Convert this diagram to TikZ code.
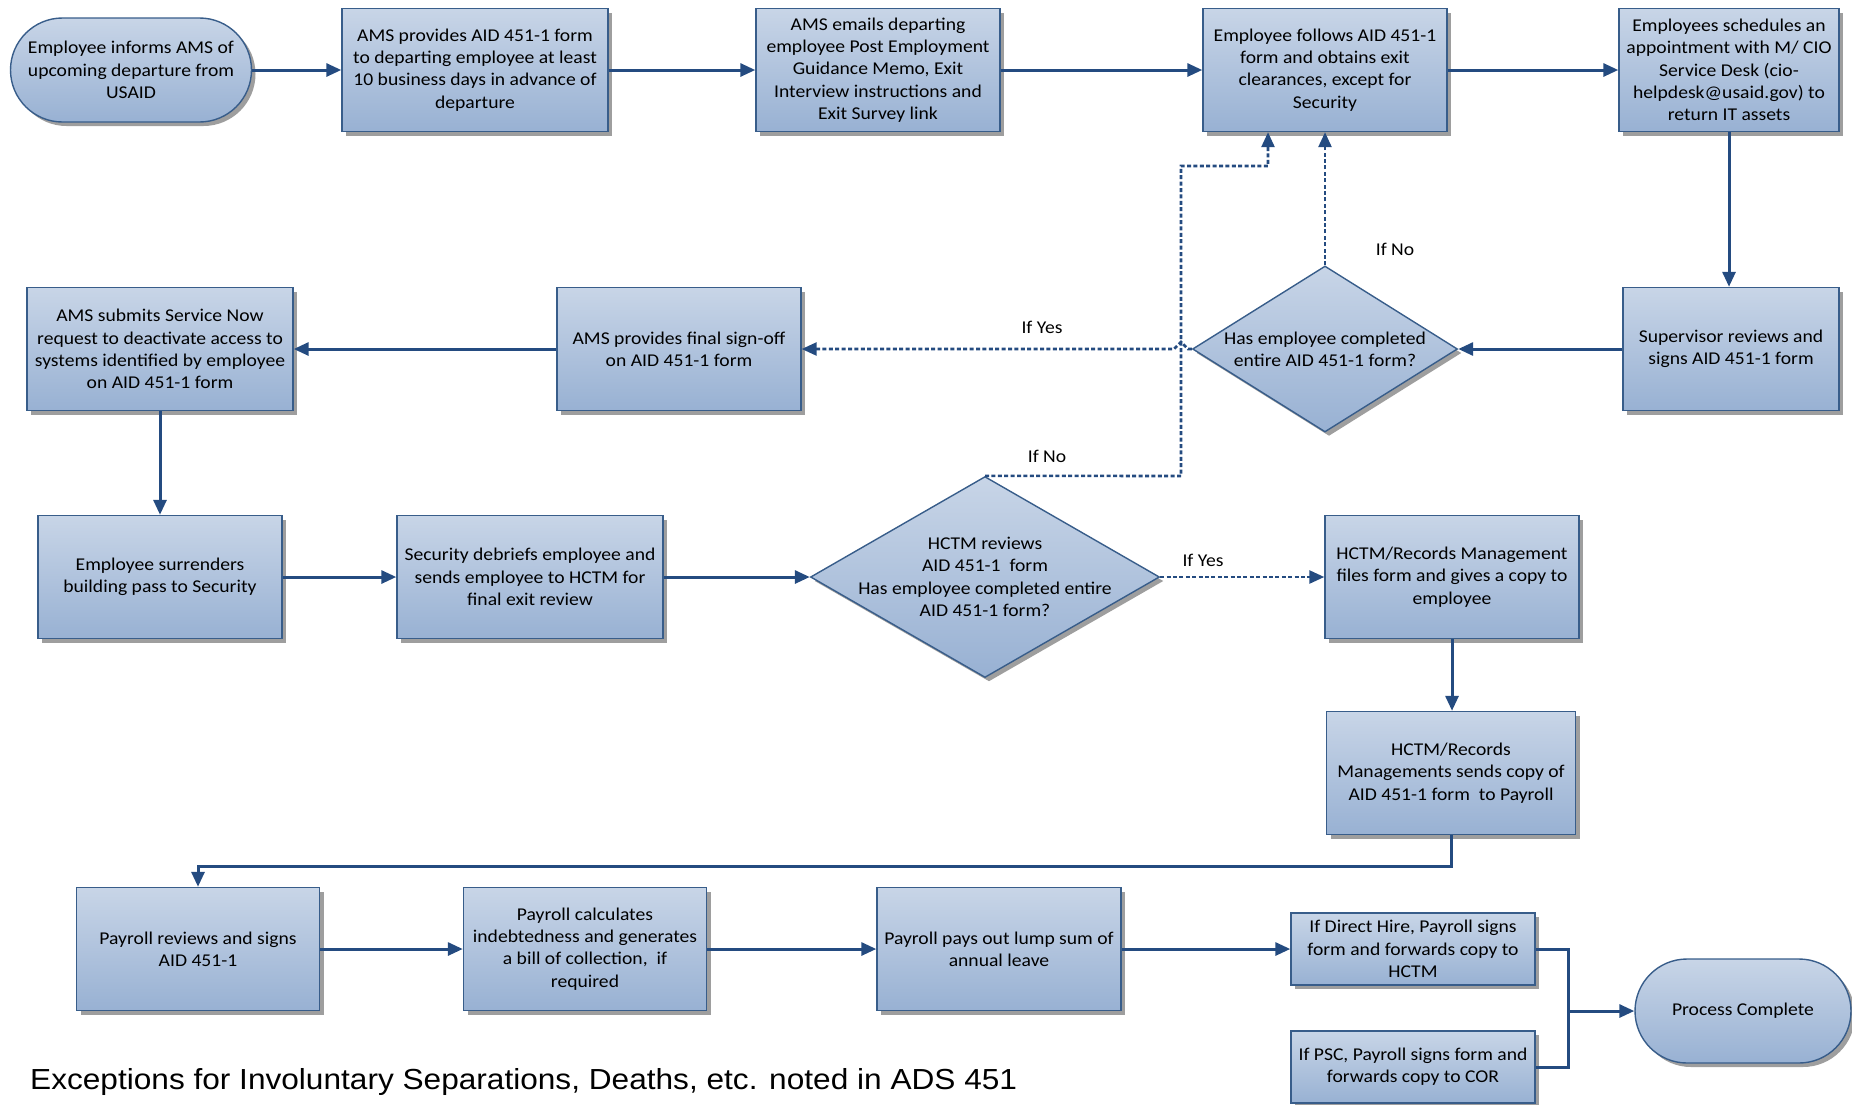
\documentclass[tikz,border=0pt]{standalone}
\usepackage{fontspec}
\setmainfont{Carlito}[FakeStretch=1.09]
\newfontfamily\arialfont{Liberation Sans}[FakeStretch=1.09]
\usetikzlibrary{arrows.meta,shapes.geometric,shapes.misc,shadows}
\definecolor{boxtop}{RGB}{200,213,231}
\definecolor{boxbot}{RGB}{152,177,211}
\definecolor{boxline}{RGB}{56,93,138}
\definecolor{arrowc}{RGB}{36,75,128}
\tikzset{
  base/.style={draw=boxline, line width=1.4pt, top color=boxtop, bottom color=boxbot,
    drop shadow={shadow xshift=4pt, shadow yshift=-4pt, fill=black!38, opacity=1},
    font=\fontsize{18}{22.3}\selectfont, align=center, inner sep=2pt},
  proc/.style={base, rectangle, minimum height=123pt},
  term/.style={base, rounded rectangle, minimum height=104pt},
  decis/.style={base, diamond, inner sep=0pt},
  dtext/.style={font=\fontsize{18}{22.3}\selectfont, align=center, inner sep=0pt},
  lbl/.style={font=\fontsize{18}{22.3}\selectfont, inner sep=0pt},
  conn/.style={draw=arrowc, line width=3pt, -{Triangle[length=15pt,width=13pt]}},
  seg/.style={draw=arrowc, line width=3pt},
  dconn/.style={draw=arrowc, line width=2.6pt, dash pattern=on 4pt off 2.4pt, -{Triangle[length=15pt,width=13pt]}},
}
\begin{document}
\begin{tikzpicture}[x=1pt,y=-1pt]
\useasboundingbox (0,0) rectangle (1852,1104);
% Row 1
\node[term, minimum width=245pt] (start) at (131,70) {Employee informs AMS of\\upcoming departure from\\USAID};
\node[proc, minimum width=266pt] (b1) at (475,70) {AMS provides AID 451-1 form\\to departing employee at least\\10 business days in advance of\\departure};
\node[proc, minimum width=244pt] (b2) at (878,70) {AMS emails departing\\employee Post Employment\\Guidance Memo, Exit\\Interview instructions and\\Exit Survey link};
\node[proc, minimum width=244pt] (b3) at (1325,70) {Employee follows AID 451-1\\form and obtains exit\\clearances, except for\\Security};
\node[proc, minimum width=220pt] (b4) at (1729,70) {Employees schedules an\\appointment with M/ CIO\\Service Desk (cio-\\helpdesk@usaid.gov) to\\return IT assets};
% Row 2
\node[proc, minimum width=266pt] (b5) at (160,349) {AMS submits Service Now\\request to deactivate access to\\systems identified by employee\\on AID 451-1 form};
\node[proc, minimum width=244pt] (b6) at (679,349) {AMS provides final sign-off\\on AID 451-1 form};
\node[decis, minimum width=265pt, minimum height=166pt] (d1) at (1325,349) {};
\node[dtext] (d1t) at (d1) {Has employee completed\\entire AID 451-1 form?};
\node[proc, minimum width=216pt] (b7) at (1731,349) {Supervisor reviews and\\signs AID 451-1 form};
% Row 3
\node[proc, minimum width=244pt] (b8) at (160,577) {Employee surrenders\\building pass to Security};
\node[proc, minimum width=266pt] (b9) at (530,577) {Security debriefs employee and\\sends employee to HCTM for\\final exit review};
\node[decis, minimum width=349pt, minimum height=201pt] (d2) at (985,577) {};
\node[dtext] (d2t) at (d2) {HCTM reviews\\AID 451-1~ form\\Has employee completed entire\\AID 451-1 form?};
\node[proc, minimum width=254pt] (b10) at (1452,577) {HCTM/Records Management\\files form and gives a copy to\\employee};
% Row 4
\node[proc, minimum width=249pt] (b11) at (1451,773) {HCTM/Records\\Managements sends copy of\\AID 451-1 form~ to Payroll};
% Row 5
\node[proc, minimum width=243pt] (b12) at (198,949) {Payroll reviews and signs\\AID 451-1};
\node[proc, minimum width=243pt] (b13) at (585,949) {Payroll calculates\\indebtedness and generates\\a bill of collection,~ if\\required};
\node[proc, minimum width=244pt] (b14) at (999,949) {Payroll pays out lump sum of\\annual leave};
\node[proc, minimum width=244pt, minimum height=72pt] (b15) at (1413,949) {If Direct Hire, Payroll signs\\form and forwards copy to\\HCTM};
\node[proc, minimum width=244pt, minimum height=72pt] (b16) at (1413,1067) {If PSC, Payroll signs form and\\forwards copy to COR};
\node[term, minimum width=220pt] (end) at (1743,1011) {Process Complete};
% labels
\node[lbl] (lyes1) at (1042,327) {If Yes};
\node[lbl] (lno1) at (1395,249) {If No};
\node[lbl] (lno2) at (1047,456) {If No};
\node[lbl] (lyes2) at (1203,560) {If Yes};
\node[font=\arialfont\fontsize{29}{34}\selectfont, anchor=west, inner sep=0pt] (note) at (30,1082) {Exceptions for Involuntary Separations, Deaths, etc. noted in ADS 451};
% coordinates
\coordinate (j1) at (1181,476);
\coordinate (j2) at (1181,166);
\coordinate (j3) at (1268,166);
\coordinate (hopR) at (1188,349);
\coordinate (hopT) at (1181,342);
\coordinate (hopL) at (1174,349);
\coordinate (k1) at (1451,866);
\coordinate (k2) at (198,866);
\coordinate (m1) at (1568,949);
\coordinate (m2) at (1568,1067);
\coordinate (m3) at (1568,1011);
% connectors
\draw[conn] (start.east) -- (b1.west);
\draw[conn] (b1.east) -- (b2.west);
\draw[conn] (b2.east) -- (b3.west);
\draw[conn] (b3.east) -- (b4.west);
\draw[conn] (b4.south) -- (b4.south |- b7.north);
\draw[conn] (b7.west) -- (d1.east);
\draw[dconn] (d1.west) -- (hopR) -- (hopT) -- (hopL) -- (b6.east);
\draw[dconn] (d1.north) -- (b3.south);
\draw[conn] (b6.west) -- (b5.east);
\draw[conn] (b5.south) -- (b5.south |- b8.north);
\draw[conn] (b8.east) -- (b9.west);
\draw[conn] (b9.east) -- (d2.west);
\draw[dconn] (d2.east) -- (b10.west);
\draw[dconn] (d2.north) -- (j1) -- (j2) -- (j3) -- (j3 |- b3.south);
\draw[conn] (b10.south) -- (b10.south |- b11.north);
\draw[conn] (b11.south) -- (k1) -- (k2) -- (b12.north);
\draw[conn] (b12.east) -- (b13.west);
\draw[conn] (b13.east) -- (b14.west);
\draw[conn] (b14.east) -- (b15.west);
\draw[seg] (b15.east) -- (m1) -- (m3);
\draw[seg] (b16.east) -- (m2) -- (m3);
\draw[conn] (m3) -- (end.west);
\end{tikzpicture}
\end{document}
